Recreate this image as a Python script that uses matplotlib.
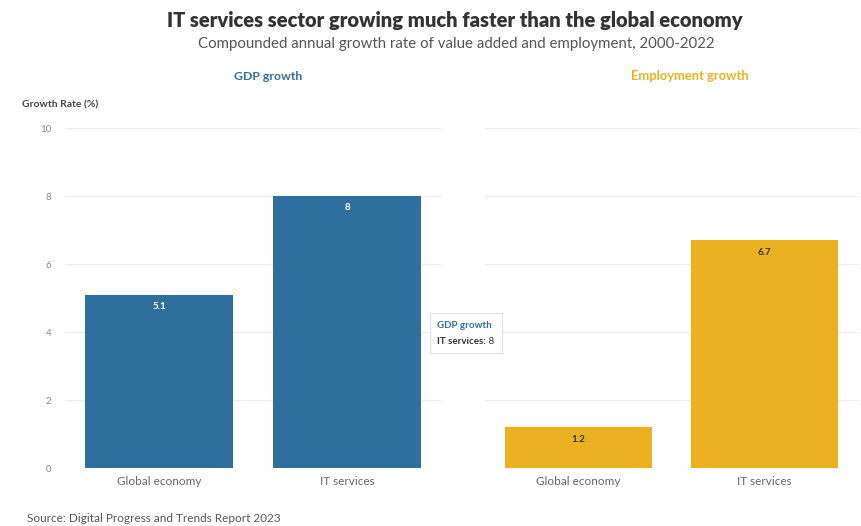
import matplotlib.pyplot as plt

plt.rcParams['font.family'] = ['Lato', 'DejaVu Sans']

categories = ["Global economy", "IT services"]
gdp_growth = [5.1, 8]
employment_growth = [1.2, 6.7]
y_ticks = [0, 2, 4, 6, 8, 10]

BLUE = "#2f6f9e"
GOLD = "#ebb121"
GRID = "#ececec"
TICK = "#8a8a8a"

W, H = 862, 526
fig = plt.figure(figsize=(W / 100, H / 100), dpi=100)
fig.patch.set_facecolor("white")


def px_axes(x0, x1, y_top, y_bot):
    return fig.add_axes([x0 / W, 1 - y_bot / H, (x1 - x0) / W, (y_bot - y_top) / H])


def draw_panel(ax, values, color, label_color, show_yticks):
    x = range(len(categories))
    bars = ax.bar(x, values, width=0.79, color=color, zorder=2)
    for b, v in zip(bars, values):
        ax.text(b.get_x() + b.get_width() / 2, v - 0.22, f"{v:g}",
                ha="center", va="top", fontsize=7, fontweight="bold",
                color=label_color, zorder=3)
    ax.set_xlim(-0.5, 1.5)
    ax.set_ylim(0, 10)
    ax.set_yticks(y_ticks)
    ax.grid(axis="y", color=GRID, linewidth=0.8, zorder=0)
    ax.set_axisbelow(True)
    for s in ax.spines.values():
        s.set_visible(False)
    ax.set_xticks(list(x))
    ax.set_xticklabels(categories, fontsize=8.5, color="#666666")
    ax.tick_params(axis="x", length=0, pad=6)
    ax.tick_params(axis="y", length=0, pad=10, labelsize=7, labelcolor=TICK)
    if not show_yticks:
        ax.set_yticklabels([])


ax1 = px_axes(65, 441, 128, 468)
ax2 = px_axes(485, 858, 128, 468)
draw_panel(ax1, gdp_growth, BLUE, "white", True)
draw_panel(ax2, employment_growth, GOLD, "#333333", False)

# titles
fig.text(455 / W, 1 - 20 / H, "IT services sector growing much faster than the global economy",
         ha="center", va="center", fontsize=14.5, fontweight="heavy", color="#333333")
fig.text(456 / W, 1 - 44 / H, "Compounded annual growth rate of value added and employment, 2000-2022",
         ha="center", va="center", fontsize=10.8, color="#555555")

# panel headers
fig.text(268 / W, 1 - 76 / H, "GDP growth", ha="center", va="center",
         fontsize=8.8, fontweight="bold", color=BLUE)
fig.text(690 / W, 1 - 76 / H, "Employment growth", ha="center", va="center",
         fontsize=9.3, fontweight="bold", color=GOLD)
fig.text(22 / W, 1 - 105 / H, "Growth Rate (%)", ha="left", va="center",
         fontsize=7.5, fontweight="bold", color="#444444")

# hover tooltip on the IT services GDP bar
tip = fig.add_axes([430 / W, 1 - 353 / H, 72 / W, 40 / H])
tip.set_xticks([])
tip.set_yticks([])
for s in tip.spines.values():
    s.set_color("#e2e2e2")
    s.set_linewidth(0.8)
tip.text(0.1, 0.7, "GDP growth", fontsize=7, fontweight="bold", color=BLUE,
         va="center", transform=tip.transAxes)
t = tip.text(0.1, 0.3, "IT services:", fontsize=7, fontweight="bold", color="#333333",
             va="center", transform=tip.transAxes)
tip.annotate(f" {gdp_growth[1]:g}", xycoords=t, xy=(1, 0.5), va="center",
             fontsize=7, color="#333333")

fig.text(27 / W, 1 - 518 / H, "Source: Digital Progress and Trends Report 2023",
         ha="left", va="center", fontsize=8.5, color="#555555")

fig.savefig("out.png", dpi=100, facecolor="white")
